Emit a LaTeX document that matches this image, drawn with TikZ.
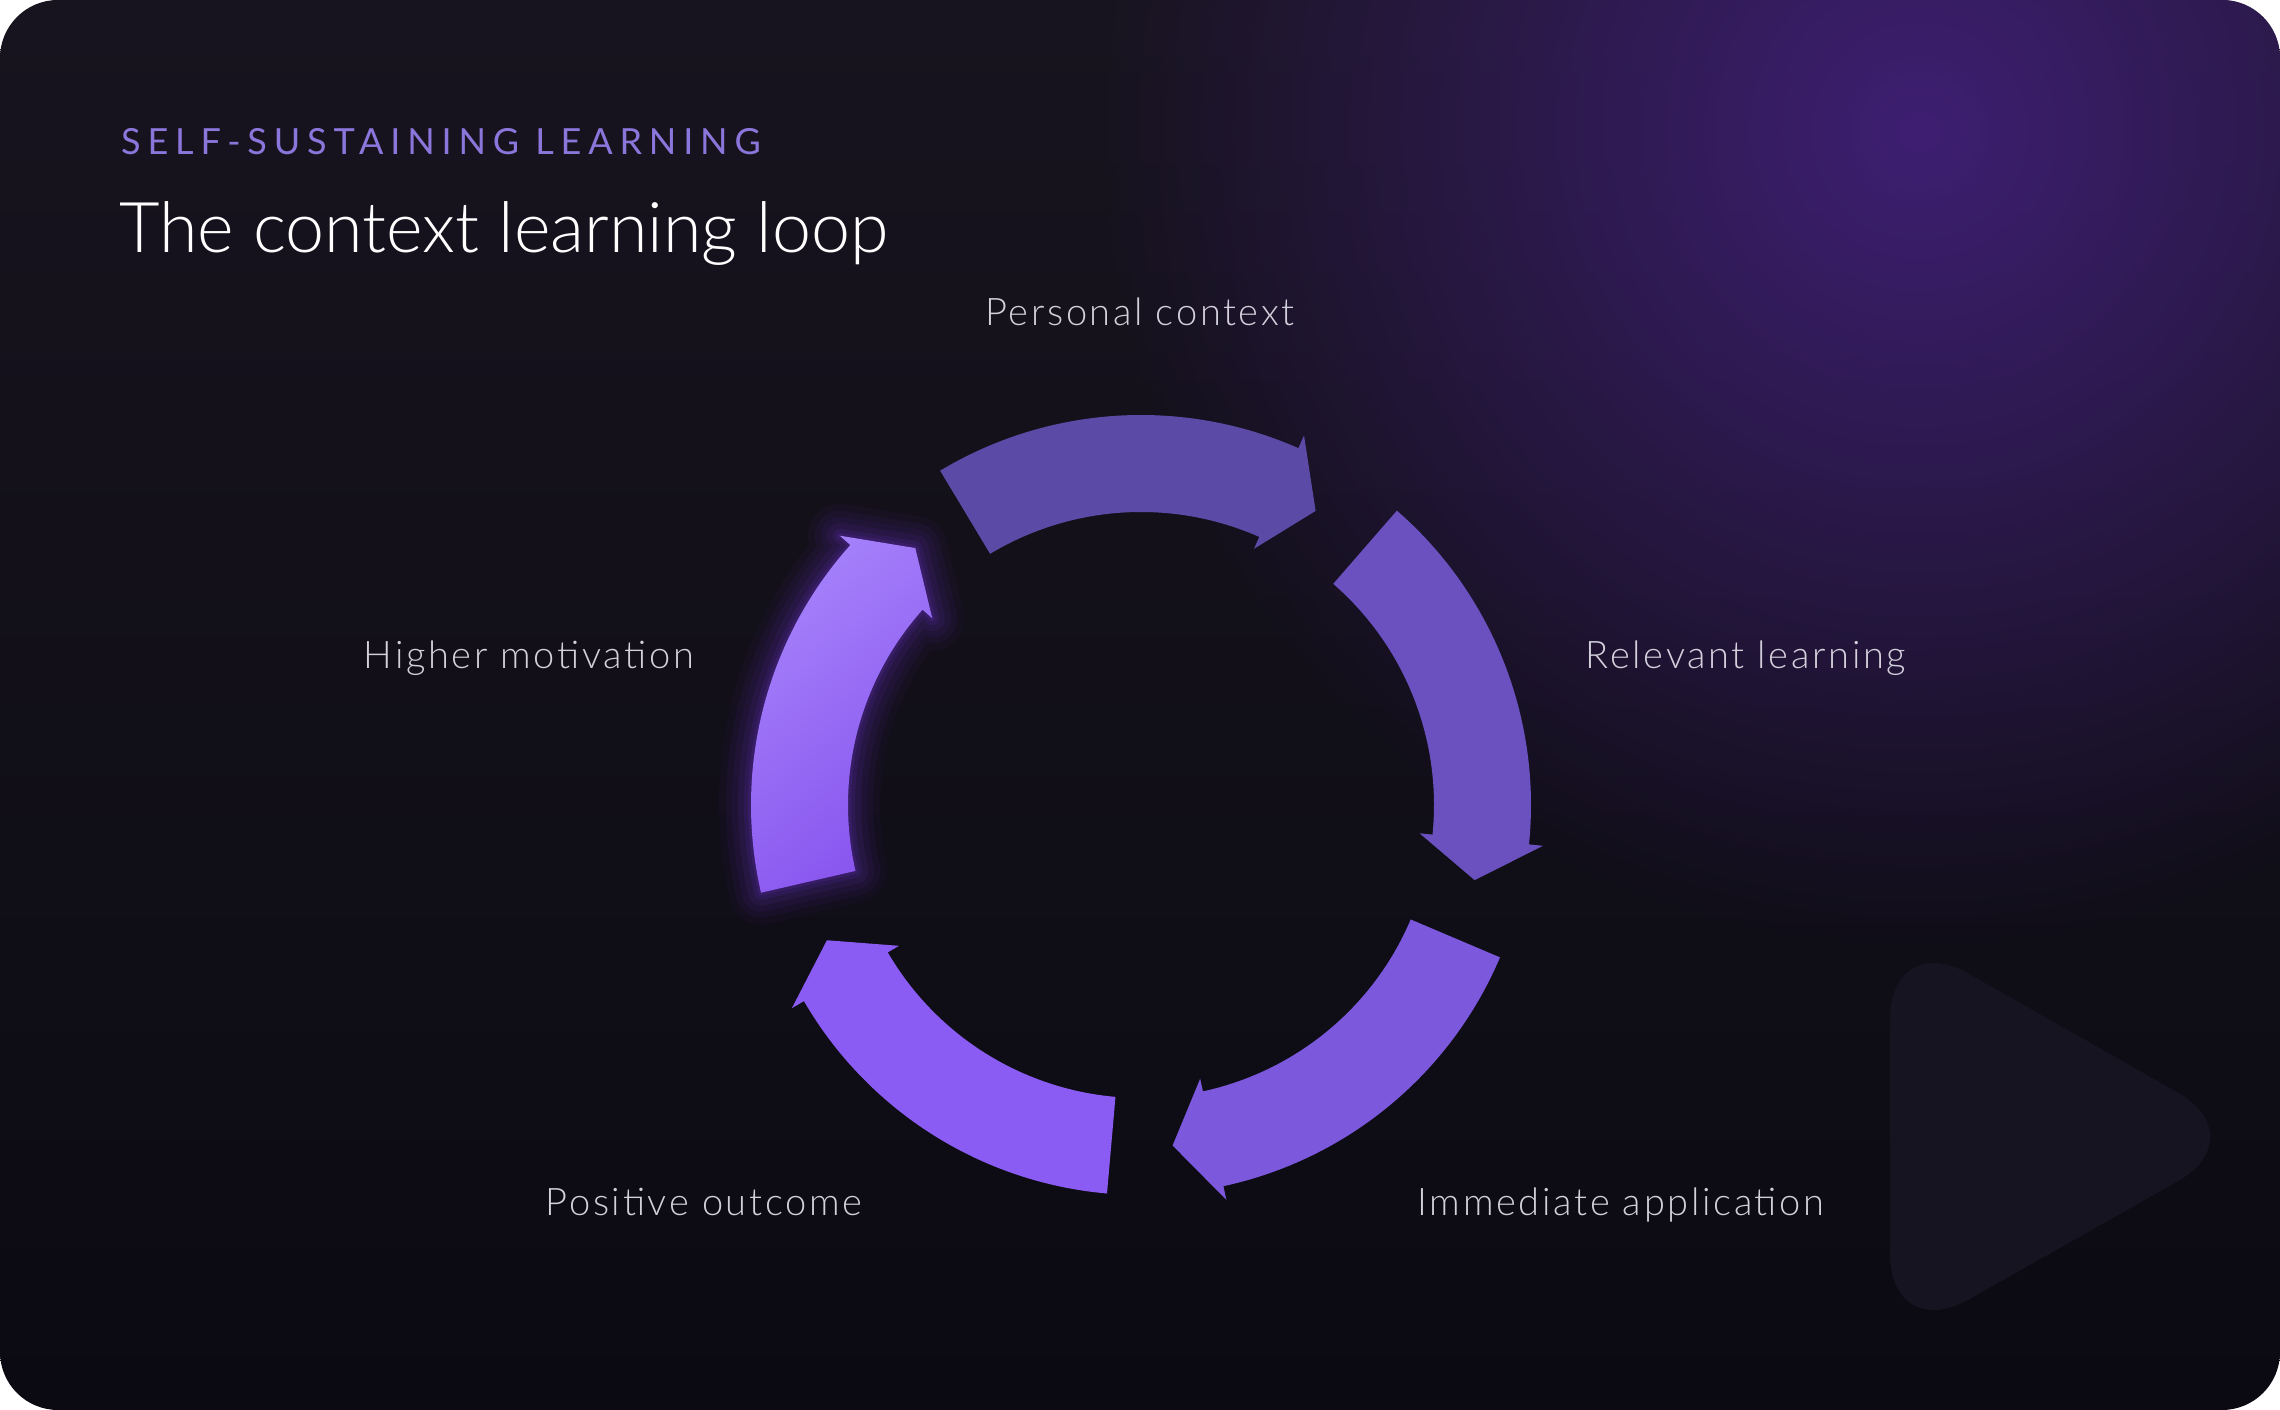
\documentclass[tikz,border=0pt]{standalone}
\usepackage{fontspec}
\setmainfont{Lato}
\newfontfamily\lightfont{Lato Light}
\usetikzlibrary{fadings}
\definecolor{bgtop}{HTML}{18141F}
\definecolor{bgbot}{HTML}{0B0A12}
\definecolor{glowbg}{HTML}{3E1F72}
\definecolor{arrA}{HTML}{5B4AA6}
\definecolor{arrB}{HTML}{6A51BF}
\definecolor{arrC}{HTML}{7B58DC}
\definecolor{arrD}{HTML}{8A5CF3}
\definecolor{arrElight}{HTML}{A683FB}
\definecolor{arrEdark}{HTML}{8854EE}
\definecolor{haze}{HTML}{7C3AED}
\definecolor{labelc}{HTML}{D3D0DC}
\definecolor{kickerc}{HTML}{8B76DB}
\definecolor{playc}{HTML}{171422}
\tikzfading[name=glowfade, inner color=transparent!0, outer color=transparent!100]
\newcommand\looppath[1]{(#1:390) arc[start angle=#1, end angle={#1-54.8}, radius=390] -- ({#1-54.8}:404) -- ({#1-61.7}:342) -- ({#1-54.8}:280) -- ({#1-54.8}:293) arc[start angle={#1-54.8}, end angle=#1, radius=293] -- cycle}
\tikzset{
  lbl/.style={text=labelc, inner sep=0pt, anchor=base, font=\lightfont\fontsize{38}{42}\selectfont\addfontfeatures{LetterSpace=7}},
}
\begin{document}
\begin{tikzpicture}[x=1pt,y=1pt]
\useasboundingbox (0,0) rectangle (2280,1410);
\fill[white] (0,0) rectangle (2280,1410);
\shade[top color=bgtop, bottom color=bgbot, rounded corners=58] (0,0) rectangle (2280,1410);
\begin{scope}
  \clip[rounded corners=58] (0,0) rectangle (2280,1410);
  \fill[glowbg, path fading=glowfade] (1919,1279) circle (820);
\end{scope}
% play triangle
\fill[playc, rounded corners=90] (1890,273) -- (1890,481) -- (2256,273) -- (1890,66) -- cycle;
% texts
\node[anchor=base west, inner sep=0pt, text=kickerc, font=\fontsize{36}{40}\selectfont\addfontfeatures{LetterSpace=19}] (kicker) at (121,1255) {SELF-SUSTAINING LEARNING};
\node[anchor=base west, inner sep=0pt, text=white, font=\lightfont\fontsize{70}{80}\selectfont] (title) at (119,1157) {The context learning loop};
\node[lbl] (personal) at (1140,1084) {Personal context};
\node[lbl] (relevant) at (1746,741) {Relevant learning};
\node[lbl] (higher) at (529,741) {Higher motivation};
\node[lbl] (positive) at (704,194) {Positive outcome};
\node[lbl] (immediate) at (1621,194) {Immediate application};
% loop arrows
\begin{scope}[shift={(1141,605)}]
  \fill[arrA] \looppath{121};
  \fill[arrB] \looppath{49};
  \fill[arrC] \looppath{-23};
  \fill[arrD] \looppath{-95};
  \foreach \w/\o in {64/0.04, 50/0.05, 38/0.06, 26/0.08, 14/0.10, 6/0.12}
    \draw[haze, line width=\w, opacity=\o, line join=round] \looppath{193};
  \shade[top color=arrElight, bottom color=arrEdark, shading angle=40] \looppath{193};
\end{scope}
\end{tikzpicture}
\end{document}
